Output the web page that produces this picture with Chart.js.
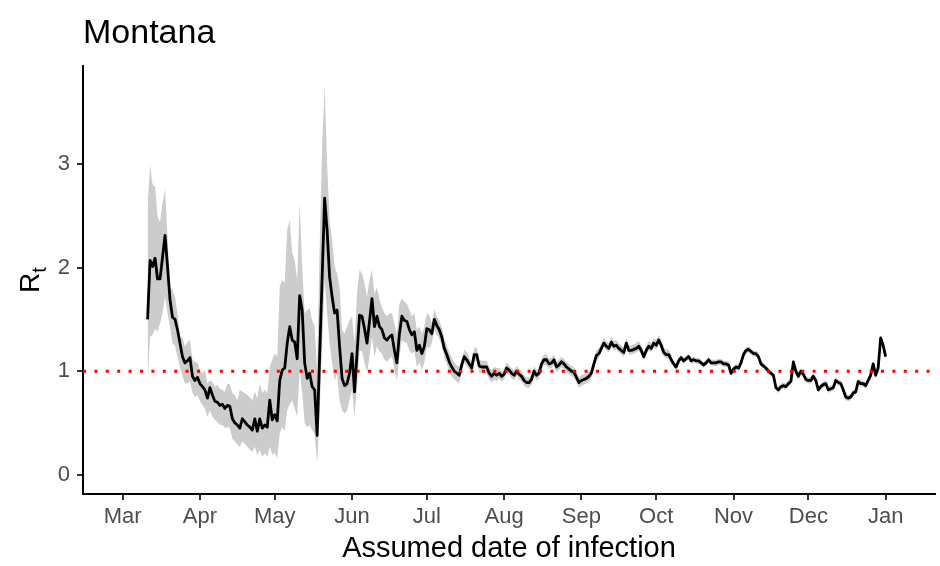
<!DOCTYPE html>
<html>
<head>
<meta charset="utf-8">
<script src="https://cdn.jsdelivr.net/npm/chart.js@4.4.1/dist/chart.umd.min.js"></script>
<style>
  html, body { margin: 0; padding: 0; background: #fff; }
</style>
</head>
<body>
<canvas id="chart" width="940" height="566"></canvas>
<script>
// daily Rt estimates for Montana, first value is 11 Mar 2020 (day 10 counted from 1 Mar)
var chartTitle = 'Montana';
var xTitle = 'Assumed date of infection';
var firstDay = 10;

var rt = [
    1.50, 2.07, 2.01, 2.09, 1.89, 1.89, 2.10, 2.31, 2.01, 1.69,
    1.52, 1.50, 1.40, 1.27, 1.14, 1.08, 1.10, 1.13, 0.95, 0.91,
    0.94, 0.88, 0.85, 0.82, 0.74, 0.84, 0.77, 0.71, 0.70, 0.67,
    0.68, 0.64, 0.67, 0.66, 0.54, 0.50, 0.48, 0.45, 0.54, 0.51,
    0.48, 0.46, 0.43, 0.54, 0.42, 0.54, 0.45, 0.48, 0.46, 0.72,
    0.53, 0.58, 0.52, 0.91, 1.01, 1.03, 1.27, 1.43, 1.30, 1.28,
    1.12, 1.73, 1.59, 1.08, 0.93, 0.98, 0.85, 0.82, 0.38, 1.14,
    1.90, 2.67, 2.36, 1.91, 1.72, 1.56, 1.59, 1.24, 0.93, 0.86,
    0.88, 0.98, 1.17, 0.80, 1.17, 1.54, 1.53, 1.41, 1.27, 1.48,
    1.70, 1.43, 1.53, 1.43, 1.40, 1.32, 1.30, 1.33, 1.35, 1.20,
    1.08, 1.36, 1.53, 1.49, 1.48, 1.40, 1.35, 1.38, 1.20, 1.25,
    1.17, 1.24, 1.41, 1.40, 1.36, 1.50, 1.44, 1.40, 1.33, 1.22,
    1.16, 1.09, 1.04, 1.00, 0.98, 0.96, 1.06, 1.14, 1.11, 1.07,
    1.03, 1.16, 1.16, 1.05, 1.04, 1.04, 1.04, 0.98, 0.95, 0.98,
    0.96, 0.98, 0.95, 0.97, 1.03, 1.01, 0.98, 0.96, 1.00, 0.97,
    0.95, 0.91, 0.89, 0.89, 0.92, 1.00, 0.96, 0.98, 1.07, 1.11,
    1.11, 1.07, 1.08, 1.11, 1.04, 1.06, 1.09, 1.07, 1.04, 1.02,
    1.00, 0.99, 0.94, 0.89, 0.91, 0.92, 0.93, 0.95, 0.98, 1.07,
    1.15, 1.17, 1.22, 1.27, 1.24, 1.22, 1.28, 1.24, 1.25, 1.22,
    1.20, 1.18, 1.27, 1.20, 1.20, 1.21, 1.22, 1.24, 1.20, 1.14,
    1.20, 1.24, 1.22, 1.27, 1.25, 1.30, 1.25, 1.18, 1.16, 1.16,
    1.11, 1.07, 1.04, 1.10, 1.13, 1.10, 1.12, 1.14, 1.10, 1.11,
    1.10, 1.10, 1.08, 1.06, 1.08, 1.11, 1.08, 1.08, 1.08, 1.09,
    1.09, 1.07, 1.07, 1.06, 0.98, 1.02, 1.04, 1.03, 1.08, 1.16,
    1.20, 1.21, 1.19, 1.17, 1.17, 1.14, 1.07, 1.05, 1.03, 1.00,
    0.98, 0.96, 0.84, 0.82, 0.85, 0.86, 0.85, 0.88, 0.90, 1.09,
    1.00, 0.95, 1.00, 0.97, 0.92, 0.91, 0.91, 0.95, 0.91, 0.82,
    0.85, 0.87, 0.88, 0.82, 0.83, 0.84, 0.91, 0.89, 0.88, 0.82,
    0.75, 0.74, 0.75, 0.79, 0.80, 0.90, 0.88, 0.88, 0.86, 0.91,
    0.96, 1.07, 0.96, 1.03, 1.32, 1.25, 1.14
];

var rtLower = [
    0.88, 1.33, 1.35, 1.41, 1.38, 1.46, 1.56, 1.72, 1.56, 1.43,
    1.27, 1.24, 1.14, 1.04, 0.95, 0.88, 0.88, 0.90, 0.79, 0.75,
    0.77, 0.71, 0.67, 0.64, 0.56, 0.62, 0.56, 0.53, 0.51, 0.48,
    0.48, 0.45, 0.46, 0.45, 0.35, 0.32, 0.29, 0.27, 0.32, 0.30,
    0.27, 0.24, 0.22, 0.27, 0.19, 0.24, 0.17, 0.21, 0.17, 0.27,
    0.19, 0.21, 0.16, 0.40, 0.46, 0.42, 0.62, 0.68, 0.72, 0.64,
    0.56, 1.01, 0.79, 0.50, 0.46, 0.48, 0.43, 0.40, 0.11, 0.59,
    1.24, 1.88, 1.56, 1.27, 1.08, 0.91, 0.98, 0.72, 0.62, 0.59,
    0.62, 0.72, 0.82, 0.56, 0.85, 1.20, 1.19, 1.08, 0.98, 1.14,
    1.33, 1.14, 1.24, 1.19, 1.17, 1.11, 1.09, 1.12, 1.14, 1.01,
    0.91, 1.14, 1.30, 1.28, 1.27, 1.20, 1.17, 1.19, 1.04, 1.08,
    1.01, 1.08, 1.24, 1.22, 1.27, 1.40, 1.35, 1.31, 1.24, 1.13,
    1.07, 1.00, 0.95, 0.92, 0.90, 0.88, 1.00, 1.08, 1.05, 1.01,
    0.97, 1.09, 1.10, 0.99, 0.98, 0.98, 0.98, 0.92, 0.89, 0.92,
    0.90, 0.93, 0.90, 0.92, 0.98, 0.96, 0.93, 0.91, 0.95, 0.92,
    0.90, 0.86, 0.84, 0.84, 0.87, 0.95, 0.91, 0.93, 1.02, 1.06,
    1.06, 1.02, 1.03, 1.06, 0.99, 1.01, 1.04, 1.02, 0.99, 0.97,
    0.95, 0.94, 0.89, 0.84, 0.86, 0.87, 0.88, 0.90, 0.93, 1.02,
    1.10, 1.13, 1.18, 1.23, 1.20, 1.18, 1.24, 1.20, 1.21, 1.18,
    1.16, 1.14, 1.23, 1.16, 1.16, 1.17, 1.18, 1.20, 1.16, 1.10,
    1.16, 1.20, 1.18, 1.23, 1.21, 1.26, 1.21, 1.14, 1.12, 1.12,
    1.07, 1.04, 1.01, 1.07, 1.10, 1.07, 1.09, 1.11, 1.07, 1.08,
    1.07, 1.07, 1.05, 1.03, 1.05, 1.08, 1.05, 1.05, 1.05, 1.06,
    1.06, 1.04, 1.04, 1.03, 0.95, 0.99, 1.01, 1.00, 1.05, 1.13,
    1.17, 1.18, 1.16, 1.14, 1.14, 1.11, 1.04, 1.02, 1.00, 0.97,
    0.95, 0.93, 0.81, 0.79, 0.82, 0.83, 0.82, 0.85, 0.87, 1.06,
    0.97, 0.92, 0.97, 0.94, 0.89, 0.88, 0.88, 0.92, 0.88, 0.79,
    0.82, 0.84, 0.85, 0.79, 0.80, 0.81, 0.88, 0.86, 0.85, 0.79,
    0.72, 0.71, 0.72, 0.76, 0.77, 0.87, 0.85, 0.85, 0.83, 0.88,
    0.93, 1.04, 0.93, 1.00, 1.29, 1.22, 1.11
];

var rtUpper = [
    2.60, 2.99, 2.80, 2.78, 2.49, 2.44, 2.62, 2.76, 2.30, 1.82,
    1.78, 1.72, 1.56, 1.33, 1.32, 1.24, 1.28, 1.30, 1.11, 1.09,
    1.08, 1.01, 0.98, 1.01, 0.88, 0.91, 0.90, 0.85, 0.87, 0.83,
    0.82, 0.80, 0.88, 0.87, 0.79, 0.77, 0.72, 0.82, 0.80, 0.79,
    0.77, 0.75, 0.72, 0.80, 0.74, 0.88, 0.79, 0.82, 0.79, 1.04,
    1.11, 1.17, 1.14, 1.82, 1.88, 1.85, 2.36, 2.46, 2.14, 2.07,
    1.88, 2.62, 2.01, 1.56, 1.59, 1.61, 1.49, 1.43, 1.00, 2.20,
    3.17, 3.75, 3.01, 2.46, 2.27, 2.01, 1.94, 1.81, 1.40, 1.36,
    1.43, 1.49, 1.53, 1.27, 1.75, 1.98, 1.94, 1.85, 1.72, 1.88,
    1.98, 1.75, 1.81, 1.69, 1.62, 1.56, 1.53, 1.56, 1.56, 1.46,
    1.36, 1.65, 1.70, 1.67, 1.65, 1.59, 1.53, 1.56, 1.40, 1.43,
    1.36, 1.43, 1.56, 1.54, 1.46, 1.60, 1.53, 1.49, 1.42, 1.31,
    1.25, 1.18, 1.13, 1.08, 1.06, 1.04, 1.12, 1.21, 1.18, 1.13,
    1.09, 1.22, 1.23, 1.11, 1.10, 1.10, 1.10, 1.04, 1.01, 1.04,
    1.03, 1.03, 1.00, 1.02, 1.08, 1.06, 1.03, 1.01, 1.05, 1.02,
    1.00, 0.96, 0.94, 0.94, 0.97, 1.05, 1.01, 1.03, 1.12, 1.16,
    1.16, 1.12, 1.13, 1.16, 1.09, 1.11, 1.14, 1.12, 1.09, 1.07,
    1.05, 1.04, 0.99, 0.94, 0.96, 0.97, 0.98, 1.00, 1.03, 1.12,
    1.20, 1.22, 1.27, 1.32, 1.29, 1.27, 1.33, 1.29, 1.30, 1.27,
    1.25, 1.23, 1.32, 1.25, 1.25, 1.26, 1.27, 1.29, 1.25, 1.19,
    1.25, 1.29, 1.27, 1.32, 1.30, 1.35, 1.30, 1.23, 1.21, 1.21,
    1.16, 1.10, 1.07, 1.13, 1.16, 1.13, 1.15, 1.17, 1.13, 1.14,
    1.13, 1.13, 1.11, 1.09, 1.11, 1.14, 1.11, 1.11, 1.11, 1.12,
    1.12, 1.10, 1.10, 1.09, 1.01, 1.05, 1.07, 1.06, 1.11, 1.19,
    1.23, 1.24, 1.22, 1.20, 1.20, 1.17, 1.10, 1.08, 1.06, 1.03,
    1.01, 0.99, 0.87, 0.85, 0.88, 0.89, 0.88, 0.91, 0.93, 1.12,
    1.03, 0.98, 1.03, 1.00, 0.95, 0.94, 0.94, 0.98, 0.94, 0.85,
    0.88, 0.90, 0.91, 0.85, 0.86, 0.87, 0.94, 0.92, 0.91, 0.85,
    0.78, 0.77, 0.78, 0.82, 0.83, 0.93, 0.91, 0.91, 0.89, 0.94,
    0.99, 1.10, 0.99, 1.06, 1.35, 1.28, 1.17
];

// month starts, in days from 1 Mar 2020
var monthTicks = [0, 31, 61, 92, 122, 153, 184, 214, 245, 275, 306];
var monthLabels = ['Mar', 'Apr', 'May', 'Jun', 'Jul', 'Aug', 'Sep', 'Oct', 'Nov', 'Dec', 'Jan'];
var yTicks = [0, 1, 2, 3];
var refLevel = 1;

var xMin = -15.9, xMax = 325.8;
var yMin = -0.186, yMax = 3.946;

var fontFamily = '"Liberation Sans", Arial, Helvetica, sans-serif';
Chart.defaults.font.family = fontFamily;

var toPoints = function (values) {
    var pts = [];
    for (var i = 0; i < values.length; i++) {
        pts.push({ x: firstDay + i, y: values[i] });
    }
    return pts;
};

// plot title and the R_t axis label (subscript needs manual drawing)
var labelsPlugin = {
    id: 'labelsPlugin',
    afterDraw: function (chart) {
        var ctx = chart.ctx;
        var area = chart.chartArea;
        ctx.save();
        ctx.fillStyle = '#000';
        ctx.textBaseline = 'alphabetic';
        ctx.textAlign = 'left';
        ctx.font = '34px ' + fontFamily;
        ctx.fillText(chartTitle, area.left, 43);

        ctx.translate(39, (area.top + area.bottom) / 2 + 13);
        ctx.rotate(-Math.PI / 2);
        ctx.font = '28px ' + fontFamily;
        ctx.fillText('R', 0, 0);
        var w = ctx.measureText('R').width;
        ctx.font = '20px ' + fontFamily;
        ctx.fillText('t', w, 7);
        ctx.restore();
    }
};

var tickStyle = {
    color: '#4D4D4D',
    font: { size: 22 },
    autoSkip: false,
    maxRotation: 0
};

new Chart(document.getElementById('chart'), {
    type: 'line',
    data: {
        datasets: [{
            label: 'threshold',
            data: [{ x: xMin, y: refLevel }, { x: xMax, y: refLevel }],
            borderColor: '#FF0000',
            borderWidth: 3,
            borderDash: [3, 8.4],
            pointRadius: 0,
            fill: false
        }, {
            label: 'Rt',
            data: toPoints(rt),
            borderColor: '#000000',
            borderWidth: 2.8,
            borderJoinStyle: 'round',
            pointRadius: 0,
            tension: 0,
            fill: false
        }, {
            label: 'upper',
            data: toPoints(rtUpper),
            borderColor: 'rgba(0,0,0,0)',
            borderWidth: 1,
            backgroundColor: '#CCCCCC',
            pointRadius: 0,
            fill: '+1'
        }, {
            label: 'lower',
            data: toPoints(rtLower),
            borderColor: 'rgba(0,0,0,0)',
            borderWidth: 1,
            pointRadius: 0,
            fill: false
        }]
    },
    options: {
        responsive: false,
        animation: false,
        layout: { padding: { top: 66, right: 5, left: 0, bottom: 0 } },
        plugins: {
            legend: { display: false },
            tooltip: { enabled: false }
        },
        scales: {
            x: {
                type: 'linear',
                min: xMin,
                max: xMax,
                afterBuildTicks: function (scale) {
                    scale.ticks = monthTicks.map(function (v) { return { value: v }; });
                },
                afterFit: function (scale) { scale.height = 72; },
                ticks: Object.assign({}, tickStyle, {
                    padding: 4,
                    callback: function (value) { return monthLabels[monthTicks.indexOf(value)]; }
                }),
                grid: { display: true, drawOnChartArea: false, drawTicks: true, tickLength: 6, color: '#333333', lineWidth: 2 },
                border: { display: true, color: '#000000', width: 2 },
                title: { display: true, text: xTitle, color: '#000000', font: { size: 29 }, padding: { top: 0, bottom: 0 } }
            },
            y: {
                type: 'linear',
                min: yMin,
                max: yMax,
                afterBuildTicks: function (scale) {
                    scale.ticks = yTicks.map(function (v) { return { value: v }; });
                },
                afterFit: function (scale) { scale.width = 83; },
                ticks: Object.assign({}, tickStyle, { padding: 7 }),
                grid: { display: true, drawOnChartArea: false, drawTicks: true, tickLength: 6, color: '#333333', lineWidth: 2 },
                border: { display: true, color: '#000000', width: 2 }
            }
        }
    },
    plugins: [labelsPlugin]
});
</script>
</body>
</html>
